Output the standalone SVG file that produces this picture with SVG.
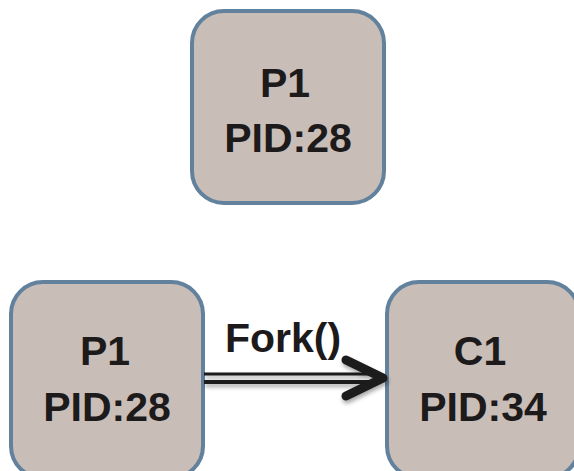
<svg xmlns="http://www.w3.org/2000/svg" width="574" height="471" viewBox="0 0 574 471">
<style>
.box{fill:#c9bdb8;stroke:#62819c;stroke-width:4}
.t{font-family:"Liberation Sans",Arial,sans-serif;font-weight:bold;font-size:41px;fill:#1c1a1a;text-anchor:middle}
</style>
<defs>
<filter id="sh" x="-10%" y="-30%" width="130%" height="180%">
<feGaussianBlur in="SourceAlpha" stdDeviation="2"/>
<feOffset dx="1" dy="3" result="b"/>
<feComponentTransfer><feFuncA type="linear" slope="0.35"/></feComponentTransfer>
<feMerge><feMergeNode/><feMergeNode in="SourceGraphic"/></feMerge>
</filter>
</defs>
<rect width="574" height="471" fill="#ffffff"/>
<g id="top-p1">
<rect class="box" x="192" y="11" width="192" height="192" rx="32"/>
<text class="t" x="285" y="97">P1</text>
<text class="t" x="288" y="152">PID:28</text>
</g>
<g id="p1">
<rect class="box" x="11" y="282" width="192" height="196" rx="32"/>
<text class="t" x="105" y="365">P1</text>
<text class="t" x="107" y="421">PID:28</text>
</g>
<g id="c1">
<rect class="box" x="387" y="282" width="192" height="196" rx="32"/>
<text class="t" x="480" y="365">C1</text>
<text class="t" x="483" y="421">PID:34</text>
</g>
<g id="connectors">
<g filter="url(#sh)">
<line x1="204" y1="374" x2="378" y2="374" stroke="#1c1a1a" stroke-width="3"/>
<line x1="204" y1="382" x2="378" y2="382" stroke="#1c1a1a" stroke-width="4"/>
<polyline points="346,360 383,378 346,396" fill="none" stroke="#1c1a1a" stroke-width="9" stroke-linecap="round" stroke-linejoin="round"/>
</g>
<text class="t" x="283" y="352">Fork()</text>
</g>
</svg>
